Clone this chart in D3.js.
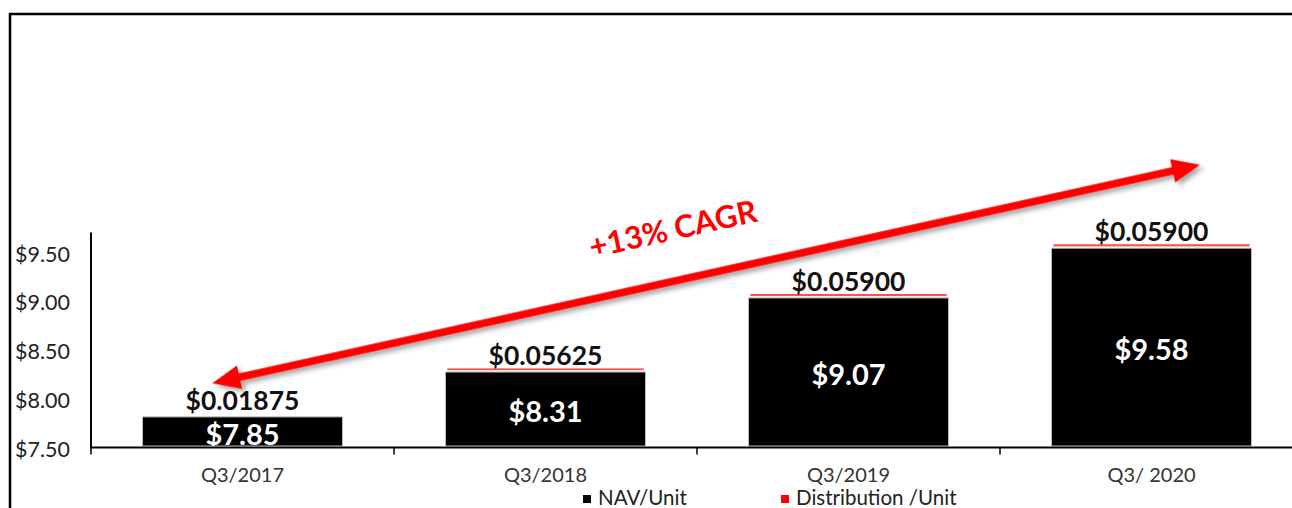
<!DOCTYPE html>
<html>
<head>
<meta charset="utf-8">
<script src="https://cdn.jsdelivr.net/npm/d3@7"></script>
<style>
  body { margin: 0; background: #fff; }
  svg { display: block; }
</style>
</head>
<body>
<svg width="1292" height="508"></svg>
<script>
// data
const categories = ["Q3/2017", "Q3/2018", "Q3/2019", "Q3/ 2020"];
const navValues = [7.85, 8.31, 9.07, 9.58];
const distValues = [0.01875, 0.05625, 0.059, 0.059];
const distLabels = ["$0.01875", "$0.05625", "$0.05900", "$0.05900"];
const yTicks = [7.5, 8.0, 8.5, 9.0, 9.5];
const legendItems = ["NAV/Unit", "Distribution /Unit"];
const cagrText = "+13% CAGR";

const svg = d3.select("svg");
const font = "Lato, 'Open Sans', sans-serif";

// outer frame (left + top only)
svg.append("path")
   .attr("d", "M10,508 V14 H1292")
   .attr("fill", "none")
   .attr("stroke", "#000")
   .attr("stroke-width", 2.5);

const xScale = d3.scaleBand()
                 .domain(categories)
                 .range([91, 1303])
                 .paddingInner(0.34)
                 .paddingOuter(0.17);

const yScale = d3.scaleLinear()
                 .domain([7.5, 9.5])
                 .range([451, 256]);

const baseY = 447.5;

// y axis line + labels
svg.append("line")
   .attr("x1", 91).attr("x2", 91)
   .attr("y1", yScale(9.74)).attr("y2", baseY + 1)
   .attr("stroke", "#000").attr("stroke-width", 2);

svg.selectAll(".ytick")
   .data(yTicks)
   .enter()
   .append("text")
   .attr("class", "ytick")
   .attr("x", 70)
   .attr("y", d => yScale(d) - 2)
   .attr("dy", "0.35em")
   .attr("text-anchor", "end")
   .attr("fill", "#222")
   .style("font-family", font)
   .style("font-size", "21.5px")
   .text(d => "$" + d.toFixed(2));

// bars: distribution segment (red) on top of NAV (black)
categories.forEach((cat, i) => {
  const x0 = xScale(cat);
  const bw = xScale.bandwidth();
  const top = yScale(navValues[i] + distValues[i]);
  const navTop = yScale(navValues[i]);

  svg.append("rect")
     .attr("x", x0).attr("y", top)
     .attr("width", bw).attr("height", navTop - top)
     .attr("fill", "#ff5050")
     .attr("stroke", "#fff")
     .attr("stroke-width", 3.6);

  svg.append("rect")
     .attr("x", x0).attr("y", navTop)
     .attr("width", bw).attr("height", baseY - 1.5 - navTop)
     .attr("fill", "#000")
     .attr("stroke", "#bbb")
     .attr("stroke-width", 1);

  // NAV label (white, centred in bar)
  svg.append("text")
     .attr("x", x0 + bw / 2)
     .attr("y", (navTop + baseY) / 2 + 2)
     .attr("dy", "0.36em")
     .attr("text-anchor", "middle")
     .attr("fill", "#fff")
     .style("font-family", font)
     .style("font-weight", "bold")
     .style("font-size", "29px")
     .text("$" + navValues[i].toFixed(2));

  // distribution label above bar
  svg.append("text")
     .attr("x", x0 + bw / 2)
     .attr("y", navTop - 7)
     .attr("text-anchor", "middle")
     .attr("fill", "#111")
     .style("font-family", font)
     .style("font-weight", "bold")
     .style("font-size", "26.5px")
     .text(distLabels[i]);
});

// x axis
svg.append("line")
   .attr("x1", 91).attr("x2", 1292)
   .attr("y1", baseY).attr("y2", baseY)
   .attr("stroke", "#000").attr("stroke-width", 2);

const step = xScale.step();
const edges = d3.range(categories.length + 1).map(i => 91 + i * step);
svg.selectAll(".xtick")
   .data(edges)
   .enter()
   .append("line")
   .attr("x1", d => d).attr("x2", d => d)
   .attr("y1", baseY).attr("y2", baseY + 7)
   .attr("stroke", "#000").attr("stroke-width", 1.5);

svg.selectAll(".xlabel")
   .data(categories)
   .enter()
   .append("text")
   .attr("x", d => xScale(d) + xScale.bandwidth() / 2)
   .attr("y", 475)
   .attr("dy", "0.35em")
   .attr("text-anchor", "middle")
   .attr("fill", "#333")
   .style("font-family", font)
   .style("font-size", "20px")
   .text(d => d);

// legend
const legendColors = ["#000", "#ff0000"];
const legendX = [583, 781];
legendItems.forEach((item, i) => {
  svg.append("rect")
     .attr("x", legendX[i]).attr("y", 495)
     .attr("width", 8).attr("height", 8)
     .attr("fill", legendColors[i]);
  svg.append("text")
     .attr("x", legendX[i] + 15)
     .attr("y", 505)
     .attr("fill", "#222")
     .style("font-family", font)
     .style("font-size", "20.5px")
     .text(item);
});

// CAGR double-headed arrow with drop shadow
const defs = svg.append("defs");
const filt = defs.append("filter").attr("id", "shadow")
                 .attr("x", "-10%").attr("y", "-50%")
                 .attr("width", "120%").attr("height", "200%");
filt.append("feDropShadow")
    .attr("dx", 3).attr("dy", 4)
    .attr("stdDeviation", 2.5)
    .attr("flood-color", "#000")
    .attr("flood-opacity", 0.35);

// endpoints in band-position / value space
const posScale = d3.scaleLinear().domain([0, 4]).range([91, 1303]);
const p0 = [posScale(0.40), yScale(8.195)];
const p1 = [posScale(3.66), yScale(10.435)];
const dx = p1[0] - p0[0], dy = p1[1] - p0[1];
const len = Math.hypot(dx, dy);
const ang = Math.atan2(dy, dx) * 180 / Math.PI;
const headL = 28, headW = 12, shaft = 3.8;

const arrow = svg.append("g")
   .attr("transform", `translate(${p0[0]},${p0[1]}) rotate(${ang})`)
   .attr("filter", "url(#shadow)");
arrow.append("path")
   .attr("d", `M0,0 L${headL},${-headW} L${headL},${-shaft} L${len - headL},${-shaft}
               L${len - headL},${-headW} L${len},0 L${len - headL},${headW}
               L${len - headL},${shaft} L${headL},${shaft} L${headL},${headW} Z`)
   .attr("fill", "#ff0000");

svg.append("text")
   .attr("transform", `translate(673,229) rotate(${ang})`)
   .attr("dy", "0.35em")
   .attr("text-anchor", "middle")
   .attr("fill", "#ff0000")
   .style("font-family", font)
   .style("font-weight", "bold")
   .style("font-size", "31px")
   .text(cagrText);
</script>
</body>
</html>
